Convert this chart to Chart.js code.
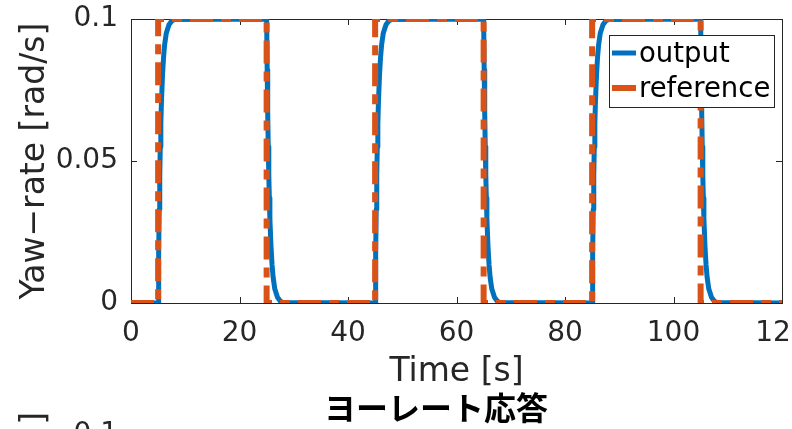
<!DOCTYPE html>
<html>
<head>
<meta charset="utf-8">
<script src="https://cdn.jsdelivr.net/npm/chart.js@4/dist/chart.umd.min.js"></script>
<style>
  html, body { margin: 0; padding: 0; background: #ffffff; }
  #wrap { width: 792px; height: 429px; }
</style>
</head>
<body>
<div id="wrap"><canvas id="c" width="792" height="429"></canvas></div>
<script>
// Reference yaw-rate command: square pulses between 0 and 0.1 rad/s
const refTime = [0, 5, 5, 25, 25, 45, 45, 65, 65, 85, 85, 105, 105, 120];
const refYaw  = [0, 0, 0.1, 0.1, 0, 0, 0.1, 0.1, 0, 0, 0.1, 0.1, 0, 0];

// Measured yaw-rate output of the vehicle
const outTime = [
  0, 5, 5.1, 5.2, 5.3, 5.4, 5.5, 5.6, 5.8, 6.0, 6.2, 6.5, 7.0, 7.5, 8.0,
  25, 25.1, 25.2, 25.3, 25.4, 25.5, 25.6, 25.8, 26.0, 26.2, 26.5, 27.0, 27.5, 28.0,
  45, 45.1, 45.2, 45.3, 45.4, 45.5, 45.6, 45.8, 46.0, 46.2, 46.5, 47.0, 47.5, 48.0,
  65, 65.1, 65.2, 65.3, 65.4, 65.5, 65.6, 65.8, 66.0, 66.2, 66.5, 67.0, 67.5, 68.0,
  85, 85.1, 85.2, 85.3, 85.4, 85.5, 85.6, 85.8, 86.0, 86.2, 86.5, 87.0, 87.5, 88.0,
  105, 105.1, 105.2, 105.3, 105.4, 105.5, 105.6, 105.8, 106.0, 106.2, 106.5, 107.0, 107.5, 108.0,
  120
];
const outYaw = [
  0, 0, 0.018, 0.033, 0.045, 0.055, 0.063, 0.070, 0.080, 0.0865, 0.091, 0.095, 0.098, 0.0993, 0.0998,
  0.1, 0.082, 0.067, 0.055, 0.045, 0.037, 0.030, 0.020, 0.0135, 0.009, 0.005, 0.002, 0.0007, 0.0002,
  0, 0.018, 0.033, 0.045, 0.055, 0.063, 0.070, 0.080, 0.0865, 0.091, 0.095, 0.098, 0.0993, 0.0998,
  0.1, 0.082, 0.067, 0.055, 0.045, 0.037, 0.030, 0.020, 0.0135, 0.009, 0.005, 0.002, 0.0007, 0.0002,
  0, 0.018, 0.033, 0.045, 0.055, 0.063, 0.070, 0.080, 0.0865, 0.091, 0.095, 0.098, 0.0993, 0.0998,
  0.1, 0.082, 0.067, 0.055, 0.045, 0.037, 0.030, 0.020, 0.0135, 0.009, 0.005, 0.002, 0.0007, 0.0002,
  0
];

const xTicks = [0, 20, 40, 60, 80, 100, 120];
const xTickLabels = ['0', '20', '40', '60', '80', '100', '120'];
const yTicks = [0, 0.05, 0.1];
const yTickLabels = ['0', '0.05', '0.1'];
const seriesNames = ['output', 'reference'];

const FONT = '"DejaVu Sans", sans-serif';
const CJK_FONT = '"Noto Sans CJK JP", sans-serif';
const AXIS_COLOR = '#262626';
const BLUE = '#0072BD';
const ORANGE = '#D95319';

const toPoints = (xs, ys) => xs.map((x, i) => ({ x: x, y: ys[i] }));

// Box, inward tick marks, legend and neighbouring-panel text
const decor = {
  id: 'decor',
  beforeDatasetsDraw(chart) {
    const { ctx, chartArea: a, scales: { x, y } } = chart;
    ctx.save();
    ctx.strokeStyle = AXIS_COLOR;
    ctx.lineWidth = 1;
    ctx.strokeRect(Math.round(a.left) + 0.5, Math.round(a.top) + 0.5,
                   Math.round(a.right - a.left), Math.round(a.bottom - a.top));
    const tl = 6;
    ctx.beginPath();
    xTicks.forEach(v => {
      const px = Math.round(x.getPixelForValue(v)) + 0.5;
      ctx.moveTo(px, a.bottom); ctx.lineTo(px, a.bottom - tl);
      ctx.moveTo(px, a.top); ctx.lineTo(px, a.top + tl);
    });
    yTicks.forEach(v => {
      const py = Math.round(y.getPixelForValue(v)) + 0.5;
      ctx.moveTo(a.left, py); ctx.lineTo(a.left + tl, py);
      ctx.moveTo(a.right, py); ctx.lineTo(a.right - tl, py);
    });
    ctx.stroke();
    ctx.restore();
  },
  afterDatasetsDraw(chart) {
    const { ctx } = chart;
    ctx.save();
    // legend
    const lx = 609.5, ly = 35.5, lw = 165, lh = 72;
    ctx.fillStyle = '#ffffff';
    ctx.fillRect(lx, ly, lw, lh);
    ctx.strokeStyle = AXIS_COLOR;
    ctx.lineWidth = 1;
    ctx.strokeRect(lx, ly, lw, lh);
    const rows = [
      { name: seriesNames[0], color: BLUE, width: 5, lineY: 53, textY: 62 },
      { name: seriesNames[1], color: ORANGE, width: 6, lineY: 88, textY: 97 }
    ];
    rows.forEach(r => {
      ctx.strokeStyle = r.color;
      ctx.lineWidth = r.width;
      ctx.beginPath();
      ctx.moveTo(612, r.lineY); ctx.lineTo(636, r.lineY);
      ctx.stroke();
      ctx.fillStyle = '#000000';
      ctx.font = '27.5px ' + FONT;
      ctx.textAlign = 'left';
      ctx.textBaseline = 'alphabetic';
      ctx.fillText(r.name, 639, r.textY);
    });
    ctx.restore();
  },
  afterDraw(chart) {
    const { ctx } = chart;
    ctx.save();
    // title of the panel below
    ctx.fillStyle = '#000000';
    ctx.font = 'bold 32px ' + CJK_FONT;
    ctx.textAlign = 'center';
    ctx.textBaseline = 'middle';
    ctx.fillText('ヨーレート応答', 436, 408);
    // top edge of the panel below: its y-label end and top tick label
    ctx.fillStyle = AXIS_COLOR;
    ctx.font = '33px ' + FONT;
    ctx.save();
    ctx.translate(35, 412);
    ctx.rotate(-Math.PI / 2);
    ctx.textAlign = 'right';
    ctx.textBaseline = 'middle';
    ctx.fillText(']', 0, 0);
    ctx.restore();
    ctx.font = '28px ' + FONT;
    ctx.textAlign = 'right';
    ctx.textBaseline = 'middle';
    ctx.fillText(yTickLabels[2], 118, 435);
    ctx.restore();
  }
};

new Chart(document.getElementById('c'), {
  type: 'line',
  data: {
    datasets: [
      {
        label: seriesNames[1],
        data: toPoints(refTime, refYaw),
        borderColor: ORANGE,
        borderWidth: 6,
        borderDash: [23, 8, 10, 8],
        borderJoinStyle: 'round',
        pointRadius: 0,
        tension: 0,
        order: 0
      },
      {
        label: seriesNames[0],
        data: toPoints(outTime, outYaw),
        borderColor: BLUE,
        borderWidth: 5,
        borderJoinStyle: 'round',
        pointRadius: 0,
        tension: 0,
        order: 1
      }
    ]
  },
  options: {
    responsive: false,
    animation: false,
    events: [],
    layout: { padding: { left: 0, top: 19, right: 10, bottom: 0 } },
    plugins: { legend: { display: false }, tooltip: { enabled: false } },
    scales: {
      x: {
        type: 'linear',
        min: 0,
        max: 120,
        afterBuildTicks: s => { s.ticks = xTicks.map(v => ({ value: v })); },
        afterFit: s => { s.height = 126; s.paddingLeft = 0; s.paddingRight = 0; },
        grid: { display: false, drawTicks: false },
        border: { display: false },
        ticks: {
          padding: 14,
          color: AXIS_COLOR,
          font: { family: FONT, size: 28 },
          maxRotation: 0,
          autoSkip: false,
          callback: (v, i) => xTickLabels[i]
        },
        title: {
          display: true,
          text: 'Time [s]',
          color: AXIS_COLOR,
          font: { family: FONT, size: 33 },
          padding: { top: 0, bottom: 37 }
        }
      },
      y: {
        type: 'linear',
        min: 0,
        max: 0.1,
        afterBuildTicks: s => { s.ticks = yTicks.map(v => ({ value: v })); },
        afterFit: s => { s.width = 131; s.paddingTop = 0; s.paddingBottom = 0; },
        grid: { display: false, drawTicks: false },
        border: { display: false },
        ticks: {
          padding: 13,
          color: AXIS_COLOR,
          font: { family: FONT, size: 28 },
          autoSkip: false,
          callback: (v, i) => yTickLabels[i]
        },
        title: {
          display: true,
          text: 'Yaw\u2212rate [rad/s]',
          color: AXIS_COLOR,
          font: { family: FONT, size: 33 },
          padding: { top: 16, bottom: 0 }
        }
      }
    }
  },
  plugins: [decor]
});
</script>
</body>
</html>
